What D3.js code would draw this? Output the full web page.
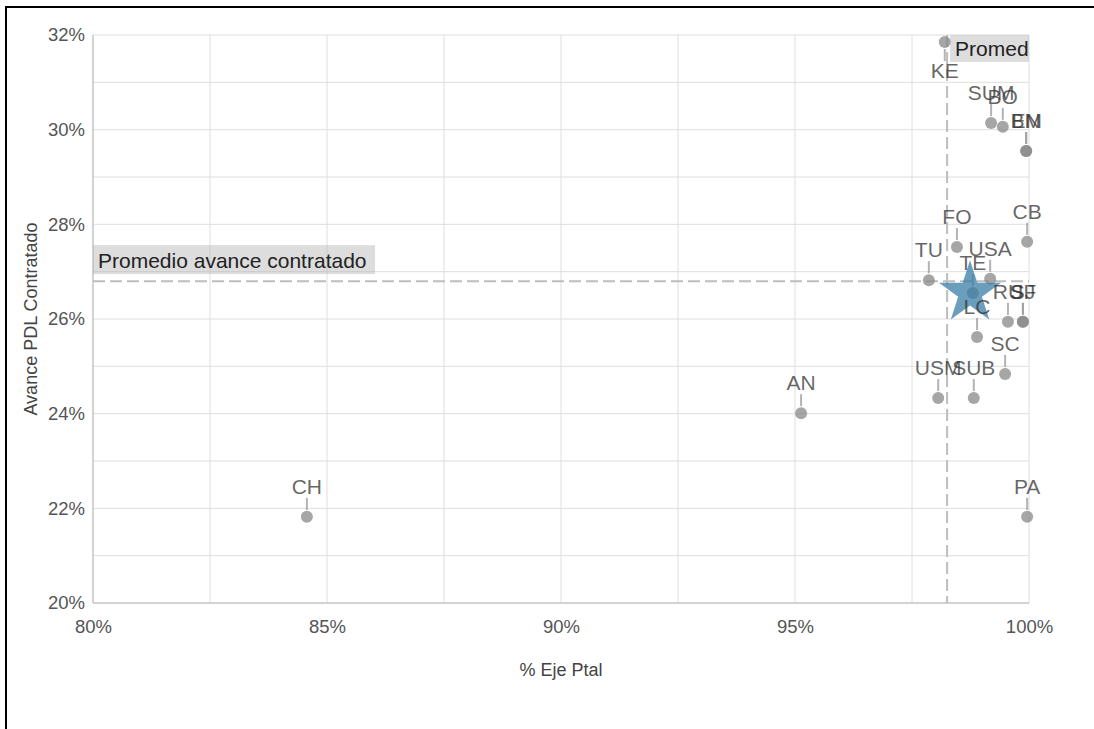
<!DOCTYPE html>
<html>
<head>
<meta charset="utf-8">
<script src="https://cdn.jsdelivr.net/npm/d3@7"></script>
<style>
  body { margin: 0; background: #fff; }
  svg text { font-family: Arial, "Liberation Sans", sans-serif; }
</style>
</head>
<body>
<div id="chart"></div>
<script>
// Datos /////////////////////////////////////////////////////////////////////
const codes   = ['CH', 'AN', 'PA', 'KE', 'SUM', 'BO', 'EN', 'BM', 'FO', 'CB', 'TU', 'USA', 'TE', 'LC', 'RU', 'SJ', 'SF', 'SC', 'USM', 'SUB'];
const ejePtal = [84.57, 95.13, 99.96, 98.20, 99.19, 99.44, 99.94, 99.94, 98.46, 99.96, 97.86, 99.17, 98.80, 98.89, 99.55, 99.87, 99.87, 99.49, 98.06, 98.82];
const avance  = [21.82, 24.01, 21.82, 31.85, 30.14, 30.06, 29.55, 29.55, 27.52, 27.63, 26.82, 26.85, 26.55, 25.62, 25.94, 25.94, 25.94, 24.84, 24.33, 24.33];
const labelBelow = ['KE'];

const promedioEje    = 98.25;
const promedioAvance = 26.80;
const total = [98.74, 26.55];   // estrella

const xTicks = [80, 85, 90, 95, 100];
const xGrid  = [80, 82.5, 85, 87.5, 90, 92.5, 95, 97.5, 100];
const yTicks = [20, 22, 24, 26, 28, 30, 32];
const yGrid  = [20, 21, 22, 23, 24, 25, 26, 27, 28, 29, 30, 31, 32];

const data = codes.map((c, i) => ({ code: c, x: ejePtal[i], y: avance[i], below: labelBelow.includes(c) }));

// Layout //////////////////////////////////////////////////////////////////////
const width = 1094, height = 729;
const margin = { top: 35, right: 65, bottom: 126, left: 93 };
const iw = width - margin.left - margin.right;
const ih = height - margin.top - margin.bottom;

const x = d3.scaleLinear().domain([80, 100]).range([0, iw]);
const y = d3.scaleLinear().domain([20, 32]).range([ih, 0]);

const svg = d3.select('#chart').append('svg')
  .attr('width', width)
  .attr('height', height)
  .attr('viewBox', [0, 0, width, height]);

// marco
svg.append('line').attr('x1', 6).attr('x2', width).attr('y1', 7).attr('y2', 7).attr('stroke', '#000').attr('stroke-width', 2);
svg.append('line').attr('x1', 6).attr('x2', 6).attr('y1', 6).attr('y2', height).attr('stroke', '#000').attr('stroke-width', 2);

svg.append('clipPath').attr('id', 'plot-clip')
  .append('rect').attr('x', 0).attr('y', 0).attr('width', iw).attr('height', ih);

const g = svg.append('g').attr('transform', `translate(${margin.left},${margin.top})`);

const grid   = g.append('g').attr('id', 'grid');
const avgs   = g.append('g').attr('id', 'promedios');
const marks  = g.append('g').attr('id', 'puntos');
const star   = g.append('g').attr('id', 'total');
const labels = g.append('g').attr('id', 'etiquetas');

// Grilla //////////////////////////////////////////////////////////////////////
grid.selectAll('line.vx').data(xGrid).join('line')
  .attr('class', 'vx')
  .attr('x1', d => x(d)).attr('x2', d => x(d))
  .attr('y1', 0).attr('y2', ih)
  .attr('stroke', '#dedede').attr('stroke-width', 1);

grid.selectAll('line.hy').data(yGrid).join('line')
  .attr('class', 'hy')
  .attr('x1', 0).attr('x2', iw)
  .attr('y1', d => y(d)).attr('y2', d => y(d))
  .attr('stroke', '#dedede').attr('stroke-width', 1);

grid.append('line').attr('x1', 0).attr('x2', iw).attr('y1', ih).attr('y2', ih).attr('stroke', '#c8c8c8').attr('stroke-width', 1.5);
grid.append('line').attr('x1', 0).attr('x2', 0).attr('y1', 0).attr('y2', ih).attr('stroke', '#c8c8c8').attr('stroke-width', 1.5);

// Ejes ////////////////////////////////////////////////////////////////////////
const xAxis = g.append('g')
  .attr('transform', `translate(0,${ih})`)
  .call(d3.axisBottom(x).tickValues(xTicks).tickFormat(d => d + '%').tickSize(0).tickPadding(17));

const yAxis = g.append('g')
  .call(d3.axisLeft(y).tickValues(yTicks).tickFormat(d => d + '%').tickSize(0).tickPadding(8));

[xAxis, yAxis].forEach(a => {
  a.select('.domain').remove();
  a.selectAll('text').attr('fill', '#555').style('font-size', '18.5px').style('font-family', 'Arial, "Liberation Sans", sans-serif');
});

svg.append('text')
  .attr('x', margin.left + iw / 2).attr('y', 676)
  .attr('text-anchor', 'middle')
  .attr('fill', '#444').style('font-size', '18px')
  .text('% Eje Ptal');

svg.append('text')
  .attr('transform', `translate(37,${margin.top + ih / 2}) rotate(-90)`)
  .attr('text-anchor', 'middle')
  .attr('fill', '#444').style('font-size', '18px')
  .text('Avance PDL Contratado');

// Lineas de promedio ////////////////////////////////////////////////////////
avgs.append('line')
  .attr('x1', 0).attr('x2', iw)
  .attr('y1', y(promedioAvance)).attr('y2', y(promedioAvance))
  .attr('stroke', '#bdbdbd').attr('stroke-width', 2).attr('stroke-dasharray', '12,5');

avgs.append('line')
  .attr('x1', x(promedioEje)).attr('x2', x(promedioEje))
  .attr('y1', 0).attr('y2', ih)
  .attr('stroke', '#bdbdbd').attr('stroke-width', 2).attr('stroke-dasharray', '12,5');

avgs.append('rect')
  .attr('x', 0).attr('y', y(promedioAvance) - 36)
  .attr('width', 282).attr('height', 29)
  .attr('fill', '#b4b4b4').attr('fill-opacity', 0.45);
avgs.append('text')
  .attr('x', 5).attr('y', y(promedioAvance) - 13)
  .attr('fill', '#222').style('font-size', '21px')
  .text('Promedio avance contratado');

const avgXLabel = avgs.append('g').attr('clip-path', 'url(#plot-clip)');
avgXLabel.append('rect')
  .attr('x', x(promedioEje) + 3).attr('y', -2)
  .attr('width', 260).attr('height', 29)
  .attr('fill', '#b4b4b4').attr('fill-opacity', 0.45);
avgXLabel.append('text')
  .attr('x', x(promedioEje) + 8).attr('y', 21)
  .attr('fill', '#222').style('font-size', '21px')
  .text('Promedio % Eje Ptal');

// Puntos y anotaciones ////////////////////////////////////////////////////////
marks.selectAll('line').data(data).join('line')
  .attr('x1', d => x(d.x)).attr('x2', d => x(d.x))
  .attr('y1', d => d.below ? y(d.y) + 7 : y(d.y) - 7)
  .attr('y2', d => d.below ? y(d.y) + 19 : y(d.y) - 19)
  .attr('stroke', '#999').attr('stroke-opacity', 0.75).attr('stroke-width', 2);

marks.selectAll('circle').data(data).join('circle')
  .attr('cx', d => x(d.x))
  .attr('cy', d => y(d.y))
  .attr('r', 6)
  .attr('fill', '#888').attr('fill-opacity', 0.75);

star.append('path')
  .attr('d', d3.symbol(d3.symbolStar, 1200)())
  .attr('transform', `translate(${x(total[0])},${y(total[1])})`)
  .attr('fill', '#3a7ca5').attr('fill-opacity', 0.75);

labels.selectAll('text').data(data).join('text')
  .attr('x', d => x(d.x))
  .attr('y', d => d.below ? y(d.y) + 36 : y(d.y) - 23)
  .attr('text-anchor', 'middle')
  .attr('fill', '#333').attr('fill-opacity', 0.75)
  .style('font-size', '21px')
  .text(d => d.code);
</script>
</body>
</html>
